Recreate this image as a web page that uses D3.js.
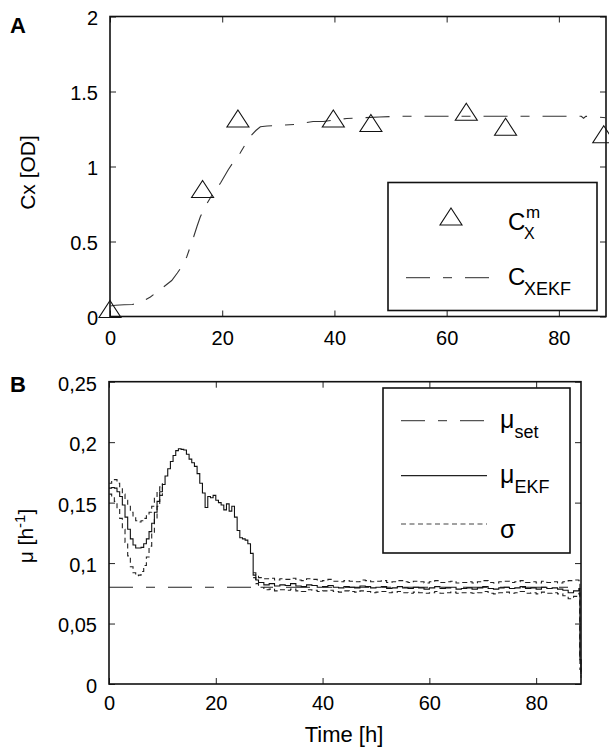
<!DOCTYPE html>
<html>
<head>
  <meta charset="utf-8">
  <title>Cx and mu (EKF)</title>
  <script src="https://d3js.org/d3.v7.min.js"></script>
  <style>
    body { margin: 0; background: #fff; }
    text { font-family: "Liberation Sans", Arial, Helvetica, sans-serif; fill: #000; }
  </style>
</head>
<body>
<script>
  // panel A: measured biomass (triangles) and EKF estimate
  var measTime = [0, 16.5, 22.8, 39.8, 46.5, 63.5, 70.5, 88];
  var measCx = [0.05, 0.85, 1.32, 1.32, 1.29, 1.365, 1.265, 1.215];

  var ekfTime = [0, 1, 2.5, 4, 5.5, 7.2, 9.3, 11, 12, 13, 13.7, 14.9, 15.5, 16.1, 17.3, 18.5, 19.7, 21.1, 22,
    23.2, 24, 25, 26, 26.8, 28, 30.3, 33, 36.2, 38, 40, 41, 42.2, 45, 48, 52, 60, 70, 80, 84, 84.4, 84.8, 88.4];
  var ekfCx = [0.07, 0.075, 0.078, 0.08, 0.095, 0.13, 0.19, 0.24, 0.29, 0.345, 0.40, 0.53, 0.60, 0.665, 0.755, 0.83, 0.89, 0.98, 1.03,
    1.09, 1.14, 1.20, 1.24, 1.265, 1.27, 1.275, 1.28, 1.30, 1.30, 1.31, 1.315, 1.32, 1.325, 1.33, 1.335, 1.335, 1.335, 1.335, 1.335, 1.322, 1.335, 1.325];

  // panel B: specific growth rate
  var timeB = [0, 0.5, 1, 1.5, 2, 2.5, 3, 3.5, 4, 4.5,
    5, 5.5, 6, 6.5, 7, 7.5, 8, 8.5, 9, 9.5,
    10, 10.5, 11, 11.5, 12, 12.5, 13, 13.5, 14, 14.5,
    15, 15.5, 16, 16.5, 17, 17.5, 18, 18.5, 19, 19.5,
    20, 20.5, 21, 21.5, 22, 22.5, 23, 23.5, 24, 24.5,
    25, 25.5, 26, 26.5, 27, 27.5,
    28, 29, 30, 31, 32, 33, 34, 35, 36, 37,
    38, 39, 40, 41, 42, 43, 44, 45, 46, 47,
    48, 49, 50, 51, 52, 53, 54, 55, 56, 57,
    58, 59, 60, 61, 62, 63, 64, 65, 66, 67,
    68, 69, 70, 71, 72, 73, 74, 75, 76, 77,
    78, 79, 80, 81, 82, 83, 84, 85, 86, 87,
    88, 88.2, 88.4];

  var muEkf = [0.162, 0.1625, 0.162, 0.159, 0.155, 0.148, 0.138, 0.128, 0.12, 0.115,
    0.1125, 0.1125, 0.113, 0.116, 0.12, 0.126, 0.133, 0.142, 0.151, 0.159,
    0.165, 0.172, 0.178, 0.184, 0.189, 0.193, 0.1945, 0.194, 0.1935, 0.19,
    0.186, 0.183, 0.18, 0.174, 0.166, 0.158, 0.146, 0.155, 0.154, 0.156,
    0.152, 0.15, 0.148, 0.144, 0.149, 0.143, 0.147, 0.138, 0.127, 0.121,
    0.12, 0.119, 0.116, 0.108, 0.09, 0.086,
    0.084, 0.082, 0.083, 0.081, 0.082, 0.0815, 0.083, 0.081, 0.0805, 0.082,
    0.0815, 0.08, 0.0805, 0.0815, 0.08, 0.0795, 0.0805, 0.08, 0.0795, 0.081,
    0.0805, 0.0795, 0.08, 0.0805, 0.079, 0.0795, 0.0805, 0.0795, 0.079, 0.08,
    0.0795, 0.0785, 0.0795, 0.0805, 0.079, 0.0795, 0.08, 0.0785, 0.079, 0.0795,
    0.0785, 0.0795, 0.0805, 0.079, 0.0785, 0.0795, 0.08, 0.079, 0.0795, 0.0805,
    0.079, 0.0795, 0.0785, 0.08, 0.079, 0.0795, 0.0785, 0.0775, 0.0755, 0.077,
    0.079, 0.02, 0.008];

  // sigma band, null where it sits on the mu line
  var sigmaHi = [0.166, 0.169, 0.169, 0.166, 0.162, 0.157, 0.152, 0.147, 0.142, 0.138,
    0.135, 0.134, 0.135, 0.137, 0.139, 0.142, 0.147, 0.154, 0.160, 0.163,
    0.166, null, null, null, null, null, null, null, null, null,
    null, null, null, null, null, null, null, null, null, null,
    null, null, null, null, null, null, null, null, null, null,
    null, null, null, null, 0.092, 0.089,
    0.088, 0.087, 0.0875, 0.086, 0.087, 0.0865, 0.0875, 0.086, 0.0855, 0.087,
    0.0865, 0.085, 0.0855, 0.0865, 0.085, 0.0845, 0.0855, 0.085, 0.0845, 0.086,
    0.0855, 0.0845, 0.085, 0.0855, 0.084, 0.0845, 0.0855, 0.0845, 0.084, 0.085,
    0.0845, 0.0835, 0.0845, 0.0855, 0.084, 0.0845, 0.085, 0.0835, 0.084, 0.0845,
    0.0835, 0.0845, 0.0855, 0.084, 0.0835, 0.0845, 0.085, 0.084, 0.0845, 0.0855,
    0.084, 0.0845, 0.0835, 0.085, 0.084, 0.0845, 0.0835, 0.0845, 0.0855, 0.086,
    0.0855, 0.022, 0.01];

  var sigmaLo = [0.157, 0.155, 0.151, 0.145, 0.137, 0.128, 0.117, 0.106, 0.097, 0.092,
    0.0895, 0.09, 0.093, 0.098, 0.105, 0.114, 0.125, 0.136, 0.147, 0.156,
    0.163, null, null, null, null, null, null, null, null, null,
    null, null, null, null, null, null, null, null, null, null,
    null, null, null, null, null, null, null, null, null, null,
    null, null, null, null, 0.088, 0.083,
    0.08, 0.078, 0.0785, 0.077, 0.078, 0.0775, 0.0785, 0.077, 0.0765, 0.078,
    0.0775, 0.0765, 0.077, 0.0775, 0.0765, 0.076, 0.077, 0.0765, 0.076, 0.077,
    0.0765, 0.0755, 0.076, 0.0765, 0.0755, 0.076, 0.0765, 0.0755, 0.075, 0.076,
    0.0755, 0.075, 0.0755, 0.0765, 0.075, 0.0755, 0.076, 0.075, 0.0755, 0.0755,
    0.075, 0.0755, 0.0765, 0.075, 0.0745, 0.0755, 0.076, 0.075, 0.0755, 0.0765,
    0.075, 0.0755, 0.0745, 0.076, 0.075, 0.0755, 0.0745, 0.073, 0.0705, 0.0725,
    0.075, 0.012, 0.005];

  var muSetTime = [0, 88.4];
  var muSet = [0.08, 0.08];

  var xTicks = [0, 20, 40, 60, 80];
  var yTicksA = [0, 0.5, 1, 1.5, 2];
  var yTicksB = [0, 0.05, 0.1, 0.15, 0.2, 0.25];

  var width = 609, height = 747;
  var svg = d3.select("body").append("svg").attr("width", width).attr("height", height);

  var dashLong = "24,13,9,13";
  var dashShort = "5,3.5";

  // panel boxes
  var A = { left: 110, right: 606, top: 16.5, bottom: 316.5 };
  var B = { left: 109, right: 581, top: 381.7, bottom: 684 };

  var xA = d3.scaleLinear().domain([0, 88.4]).range([A.left, A.right]);
  var yA = d3.scaleLinear().domain([0, 2]).range([A.bottom, A.top]);
  var xB = d3.scaleLinear().domain([0, 88.4]).range([B.left, B.right]);
  var yB = d3.scaleLinear().domain([0, 0.25]).range([B.bottom, B.top]);

  function axes(box, x, y, yTicks, yFmt, xPad) {
    var g = svg.append("g");
    g.append("g").attr("transform", "translate(0," + box.bottom + ")")
      .call(d3.axisBottom(x).tickValues(xTicks).tickSize(-6).tickPadding(xPad));
    g.append("g").attr("transform", "translate(0," + box.top + ")")
      .call(d3.axisTop(x).tickValues(xTicks).tickSize(-6).tickFormat(""));
    g.append("g").attr("transform", "translate(" + box.left + ",0)")
      .call(d3.axisLeft(y).tickValues(yTicks).tickSize(-6).tickPadding(12).tickFormat(yFmt))
      .selectAll("text").attr("dy", "0.42em");
    g.append("g").attr("transform", "translate(" + box.right + ",0)")
      .call(d3.axisRight(y).tickValues(yTicks).tickSize(-6).tickFormat(""));
    g.selectAll(".domain").remove();
    g.selectAll(".tick line").attr("stroke", "#222");
    g.selectAll("text").style("font-size", "20px");
    svg.append("rect")
      .attr("x", box.left).attr("y", box.top)
      .attr("width", box.right - box.left).attr("height", box.bottom - box.top)
      .attr("fill", "none").attr("stroke", "#111").attr("stroke-width", 1.6);
  }

  axes(A, xA, yA, yTicksA, d => String(d), 14);
  axes(B, xB, yB, yTicksB, d => String(d).replace(".", ","), 12);

  // ---- panel A marks
  var lineA = d3.line().x(i => xA(ekfTime[i])).y(i => yA(ekfCx[i]));
  svg.append("path")
    .attr("d", lineA(d3.range(ekfTime.length)))
    .attr("fill", "none").attr("stroke", "#333").attr("stroke-width", 1.1)
    .attr("stroke-dasharray", dashLong);

  function tri(cx, cy) {
    return "M" + cx + "," + (cy - 8.5) + "L" + (cx + 11) + "," + (cy + 8.5) + "L" + (cx - 11) + "," + (cy + 8.5) + "Z";
  }
  svg.append("g").selectAll("path")
    .data(d3.range(measTime.length))
    .enter().append("path")
    .attr("d", i => tri(xA(measTime[i]), yA(measCx[i])))
    .attr("fill", "none").attr("stroke", "#111").attr("stroke-width", 1.1);

  // ---- panel B marks
  var lineSet = d3.line().x(i => xB(muSetTime[i])).y(i => yB(muSet[i]));
  svg.append("path")
    .attr("d", lineSet([0, 1]))
    .attr("fill", "none").attr("stroke", "#222").attr("stroke-width", 1.1)
    .attr("stroke-dasharray", dashLong);

  function stepLine(vals) {
    return d3.line()
      .defined(i => vals[i] != null)
      .curve(d3.curveStepAfter)
      .x(i => xB(timeB[i])).y(i => yB(vals[i]))(d3.range(timeB.length));
  }
  svg.append("path").attr("d", stepLine(sigmaHi))
    .attr("fill", "none").attr("stroke", "#222").attr("stroke-width", 1.1)
    .attr("stroke-dasharray", dashShort);
  svg.append("path").attr("d", stepLine(sigmaLo))
    .attr("fill", "none").attr("stroke", "#222").attr("stroke-width", 1.1)
    .attr("stroke-dasharray", dashShort);
  svg.append("path").attr("d", stepLine(muEkf))
    .attr("fill", "none").attr("stroke", "#111").attr("stroke-width", 1.1);

  // ---- legends
  svg.append("rect").attr("x", 388).attr("y", 182.5).attr("width", 209).attr("height", 128)
    .attr("fill", "#fff").attr("stroke", "#111").attr("stroke-width", 1.6);
  svg.append("path").attr("d", tri(451, 216.5))
    .attr("fill", "none").attr("stroke", "#111").attr("stroke-width", 1.1);
  svg.append("text").attr("x", 508).attr("y", 230).style("font-size", "24px").text("C");
  svg.append("text").attr("x", 526).attr("y", 218).style("font-size", "17px").text("m");
  svg.append("text").attr("x", 524).attr("y", 239).style("font-size", "16px").text("X");
  svg.append("line").attr("x1", 406).attr("x2", 491).attr("y1", 277.7).attr("y2", 277.7)
    .attr("stroke", "#555").attr("stroke-width", 1.3).attr("stroke-dasharray", dashLong);
  svg.append("text").attr("x", 508).attr("y", 285).style("font-size", "24px").text("C");
  svg.append("text").attr("x", 524).attr("y", 295).style("font-size", "18px").text("XEKF");

  svg.append("rect").attr("x", 383).attr("y", 388).attr("width", 187).attr("height", 165)
    .attr("fill", "#fff").attr("stroke", "#111").attr("stroke-width", 1.6);
  svg.append("line").attr("x1", 401).attr("x2", 487).attr("y1", 420.7).attr("y2", 420.7)
    .attr("stroke", "#555").attr("stroke-width", 1.3).attr("stroke-dasharray", dashLong);
  svg.append("line").attr("x1", 401).attr("x2", 487).attr("y1", 475.7).attr("y2", 475.7)
    .attr("stroke", "#222").attr("stroke-width", 1.2);
  svg.append("line").attr("x1", 401).attr("x2", 487).attr("y1", 524).attr("y2", 524)
    .attr("stroke", "#444").attr("stroke-width", 1.2).attr("stroke-dasharray", dashShort);
  var l1 = svg.append("text").attr("x", 500).attr("y", 428).style("font-size", "25px");
  l1.append("tspan").text("μ");
  l1.append("tspan").attr("dy", 10).style("font-size", "18px").text("set");
  var l2 = svg.append("text").attr("x", 500).attr("y", 483).style("font-size", "25px");
  l2.append("tspan").text("μ");
  l2.append("tspan").attr("dy", 10).style("font-size", "18px").text("EKF");
  svg.append("text").attr("x", 500).attr("y", 538).style("font-size", "25px").text("σ");

  // ---- titles
  svg.append("text").attr("x", 10).attr("y", 33).style("font-size", "22px").style("font-weight", "bold").text("A");
  svg.append("text").attr("x", 10).attr("y", 392).style("font-size", "22px").style("font-weight", "bold").text("B");

  svg.append("text").attr("transform", "translate(35,172.5) rotate(-90)")
    .attr("text-anchor", "middle").style("font-size", "21px").text("Cx [OD]");
  var yl = svg.append("text").attr("transform", "translate(33,536) rotate(-90)")
    .attr("text-anchor", "middle").style("font-size", "21px");
  yl.append("tspan").text("μ [h");
  yl.append("tspan").attr("dy", -8).style("font-size", "15px").text("-1");
  yl.append("tspan").attr("dy", 8).text("]");

  svg.append("text").attr("x", 344).attr("y", 742).attr("text-anchor", "middle")
    .style("font-size", "22px").text("Time [h]");
</script>
</body>
</html>
